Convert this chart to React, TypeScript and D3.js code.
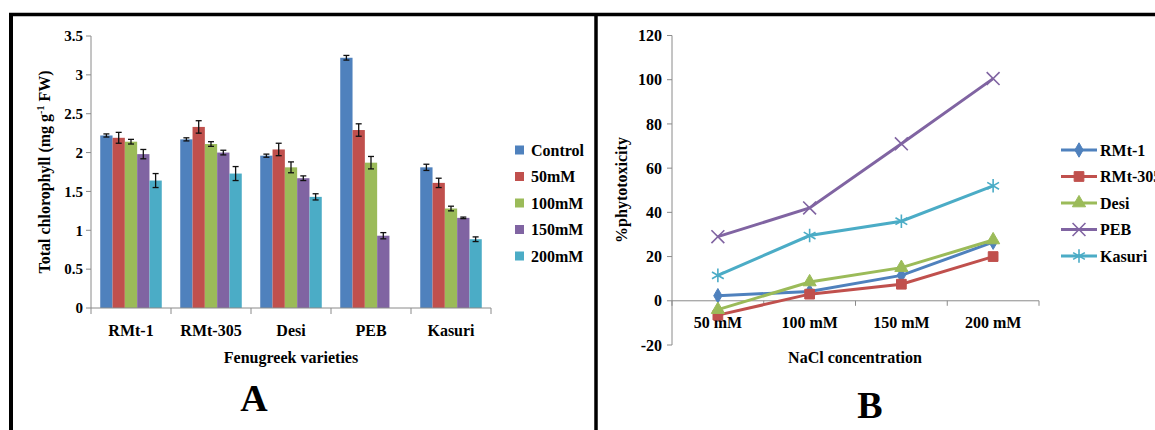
import React from "react";
import * as d3 from "d3";

// panel A data (total chlorophyll, mg g-1 FW)
const varieties = ["RMt-1", "RMt-305", "Desi", "PEB", "Kasuri"];
const treatments = ["Control", "50mM", "100mM", "150mM", "200mM"];
const controlVals = [2.22, 2.17, 1.96, 3.22, 1.81];
const mM50Vals = [2.19, 2.33, 2.04, 2.29, 1.61];
const mM100Vals = [2.14, 2.11, 1.81, 1.87, 1.28];
const mM150Vals = [1.98, 2.0, 1.67, 0.93, 1.16];
const mM200Vals = [1.64, 1.73, 1.43, null, 0.885];
const controlErr = [0.02, 0.02, 0.02, 0.03, 0.04];
const mM50Err = [0.07, 0.08, 0.08, 0.08, 0.06];
const mM100Err = [0.03, 0.03, 0.07, 0.08, 0.03];
const mM150Err = [0.06, 0.03, 0.03, 0.04, 0.01];
const mM200Err = [0.09, 0.09, 0.04, 0, 0.03];
const yTicksA = [0, 0.5, 1, 1.5, 2, 2.5, 3, 3.5];

// panel B data (% phytotoxicity)
const concentrations = ["50 mM", "100 mM", "150 mM", "200 mM"];
const lineNames = ["RMt-1", "RMt-305", "Desi", "PEB", "Kasuri"];
const rmt1Line = [2.3, 4.2, 11.5, 26.5];
const rmt305Line = [-6.5, 3, 7.5, 20];
const desiLine = [-4, 8.5, 15, 27.5];
const pebLine = [29, 42, 71, 100.5];
const kasuriLine = [11.5, 29.5, 36, 52];
const yTicksB = [-20, 0, 20, 40, 60, 80, 100, 120];

const colors = ["#4F81BD", "#C0504D", "#9BBB59", "#8064A2", "#4BACC6"];
const FONT = "'Liberation Serif', 'Times New Roman', serif";
const AXIS = "#8a8a8a";

const barVals = [controlVals, mM50Vals, mM100Vals, mM150Vals, mM200Vals];
const barErrs = [controlErr, mM50Err, mM100Err, mM150Err, mM200Err];
const lineVals = [rmt1Line, rmt305Line, desiLine, pebLine, kasuriLine];

const symbolTypes = [
  { type: d3.symbolDiamond, size: 60, filled: true },
  { type: d3.symbolSquare, size: 95, filled: true },
  { type: d3.symbolTriangle, size: 75, filled: true },
  { type: d3.symbolTimes, size: 110, filled: false },
  { type: d3.symbolAsterisk, size: 130, filled: false },
];

const Marker = ({ i, x, y }: { i: number; x: number; y: number }) => {
  const s = symbolTypes[i];
  const d = d3.symbol().type(s.type).size(s.size)() as string;
  return (
    <path
      d={d}
      transform={`translate(${x},${y})`}
      fill={s.filled ? colors[i] : "none"}
      stroke={colors[i]}
      strokeWidth={s.filled ? 1 : 1.6}
    />
  );
};

const App = () => {
  // panel A scales
  const xA = d3.scaleBand().domain(varieties).range([91, 491]);
  const xInner = d3
    .scaleBand()
    .domain(treatments)
    .range([0, xA.bandwidth()])
    .paddingOuter(0.75);
  const yA = d3.scaleLinear().domain([0, 3.5]).range([308, 36]);

  // panel B scales
  const xB = d3.scalePoint().domain(concentrations).range([672, 1039]).padding(0.5);
  const yB = d3.scaleLinear().domain([-20, 120]).range([345, 35.5]);
  const stepB = xB.step();
  const line = d3
    .line<number>()
    .x((d, i) => xB(concentrations[i]) as number)
    .y((d) => yB(d));

  const legendY = d3.scalePoint().domain(treatments).range([150, 256]);

  return (
    <svg
      width={1155}
      height={430}
      style={{ position: "fixed", left: 0, top: 0, background: "#fff" }}
      fontFamily={FONT}
      fontWeight="bold"
    >
      {/* frames */}
      <line x1={9} x2={1155} y1={14.5} y2={14.5} stroke="#000" strokeWidth={3.5} />
      <line x1={11} x2={11} y1={13} y2={430} stroke="#000" strokeWidth={4} />
      <line x1={596} x2={596} y1={13} y2={430} stroke="#000" strokeWidth={3.5} />

      {/* ===== Panel A ===== */}
      <g>
        {barVals.map((vals, t) =>
          vals.map((v, c) => {
            if (v == null) return null;
            const x = (xA(varieties[c]) as number) + (xInner(treatments[t]) as number);
            const w = xInner.bandwidth();
            const e = barErrs[t][c];
            return (
              <g key={`${t}-${c}`}>
                <rect x={x} y={yA(v)} width={w} height={yA(0) - yA(v)} fill={colors[t]} />
                <g stroke="#111" strokeWidth={1.3}>
                  <line x1={x + w / 2} x2={x + w / 2} y1={yA(v - e)} y2={yA(v + e)} />
                  <line x1={x + w / 2 - 3} x2={x + w / 2 + 3} y1={yA(v - e)} y2={yA(v - e)} />
                  <line x1={x + w / 2 - 3} x2={x + w / 2 + 3} y1={yA(v + e)} y2={yA(v + e)} />
                </g>
              </g>
            );
          })
        )}
        {/* y axis */}
        <line x1={91} x2={91} y1={yA(3.5)} y2={yA(0)} stroke={AXIS} />
        {yTicksA.map((t) => (
          <g key={t}>
            <line x1={86} x2={91} y1={yA(t)} y2={yA(t)} stroke={AXIS} />
            <text x={83} y={yA(t)} dy="0.35em" textAnchor="end" fontSize={15}>
              {String(t)}
            </text>
          </g>
        ))}
        {/* x axis */}
        <line x1={91} x2={491} y1={yA(0)} y2={yA(0)} stroke={AXIS} />
        {[...varieties.map((v) => xA(v) as number), 491].map((x, i) => (
          <line key={i} x1={x} x2={x} y1={yA(0)} y2={yA(0) + 6} stroke={AXIS} />
        ))}
        {varieties.map((v) => (
          <text
            key={v}
            x={(xA(v) as number) + xA.bandwidth() / 2}
            y={330}
            dy="0.35em"
            textAnchor="middle"
            fontSize={16}
          >
            {v}
          </text>
        ))}
        <text x={291} y={357} dy="0.35em" textAnchor="middle" fontSize={16}>
          Fenugreek varieties
        </text>
        <text transform="translate(44,172) rotate(-90)" textAnchor="middle" dy="0.35em" fontSize={16}>
          Total chlorophyll (mg g
          <tspan dy="-6" fontSize={10}>-1</tspan>
          <tspan dy="6"> FW)</tspan>
        </text>
        {/* legend */}
        {treatments.map((t, i) => (
          <g key={t} transform={`translate(515,${legendY(t)})`}>
            <rect x={0} y={-4.5} width={9} height={9} fill={colors[i]} />
            <text x={16} dy="0.35em" fontSize={16}>
              {t}
            </text>
          </g>
        ))}
        <text x={254} y={411} textAnchor="middle" fontSize={38}>
          A
        </text>
      </g>

      {/* ===== Panel B ===== */}
      <g>
        <line x1={672} x2={672} y1={yB(120)} y2={yB(-20)} stroke={AXIS} />
        {yTicksB.map((t) => (
          <g key={t}>
            <line x1={667} x2={672} y1={yB(t)} y2={yB(t)} stroke={AXIS} />
            <text x={662} y={yB(t)} dy="0.35em" textAnchor="end" fontSize={16}>
              {String(t)}
            </text>
          </g>
        ))}
        <line x1={672} x2={1039} y1={yB(0)} y2={yB(0)} stroke={AXIS} />
        {[...concentrations.map((c) => (xB(c) as number) - stepB / 2), 1039].map((x, i) => (
          <line key={i} x1={x} x2={x} y1={yB(0)} y2={yB(0) + 5} stroke={AXIS} />
        ))}
        {concentrations.map((c) => (
          <text key={c} x={xB(c)} y={322} dy="0.35em" textAnchor="middle" fontSize={16}>
            {c}
          </text>
        ))}
        {lineVals.map((vals, i) => (
          <g key={i}>
            <path d={line(vals) as string} fill="none" stroke={colors[i]} strokeWidth={3} />
            {vals.map((v, j) => (
              <Marker key={j} i={i} x={xB(concentrations[j]) as number} y={yB(v)} />
            ))}
          </g>
        ))}
        <text x={855} y={357} dy="0.35em" textAnchor="middle" fontSize={16}>
          NaCl concentration
        </text>
        <text transform="translate(621,190) rotate(-90)" textAnchor="middle" dy="0.35em" fontSize={16}>
          %phytotoxicity
        </text>
        {/* legend */}
        {lineNames.map((n, i) => (
          <g key={n} transform={`translate(1061,${legendY(treatments[i])})`}>
            <line x1={0} x2={36} y1={0} y2={0} stroke={colors[i]} strokeWidth={3} />
            <Marker i={i} x={18} y={0} />
            <text x={39} dy="0.35em" fontSize={16}>
              {n}
            </text>
          </g>
        ))}
        <text x={870} y={418} textAnchor="middle" fontSize={38}>
          B
        </text>
      </g>
    </svg>
  );
};

export default App;
